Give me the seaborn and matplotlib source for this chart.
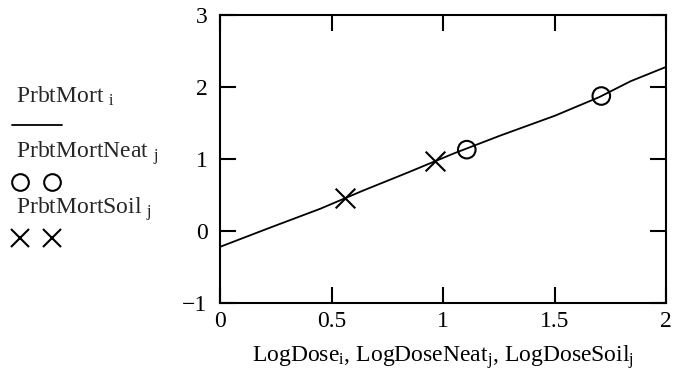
import matplotlib
matplotlib.use("Agg")
import matplotlib.pyplot as plt
from matplotlib.lines import Line2D
import seaborn as sns
import pandas as pd

# Data
log_dose = [0.0, 0.21, 0.45, 0.64, 0.84, 1.05, 1.26, 1.50, 1.70, 1.84, 2.0]
prbt_mort = [-0.22, 0.03, 0.31, 0.56, 0.81, 1.08, 1.33, 1.60, 1.86, 2.08, 2.28]
log_dose_neat = [1.106, 1.709]
prbt_mort_neat = [1.13, 1.875]
log_dose_soil = [0.56, 0.964]
prbt_mort_soil = [0.46, 0.975]
x_ticks = [0, 0.5, 1, 1.5, 2]
x_tick_labels = ["0", "0.5", "1", "1.5", "2"]
y_ticks = [-1, 0, 1, 2, 3]
y_tick_labels = ["\u22121", "0", "1", "2", "3"]

sns.set_theme(style="white")
plt.rcParams["font.family"] = ["Liberation Serif", "DejaVu Serif"]
plt.rcParams["mathtext.fontset"] = "custom"
plt.rcParams["mathtext.rm"] = "Liberation Serif"
plt.rcParams["mathtext.it"] = "Liberation Serif:italic"

fig = plt.figure(figsize=(6.75, 3.8), dpi=100)
ax = fig.add_axes([0.326, 0.2026, 0.661, 0.7579])

df_line = pd.DataFrame({"x": log_dose, "y": prbt_mort})
df_neat = pd.DataFrame({"x": log_dose_neat, "y": prbt_mort_neat})
df_soil = pd.DataFrame({"x": log_dose_soil, "y": prbt_mort_soil})

sns.lineplot(data=df_line, x="x", y="y", ax=ax, color="black", lw=1.3, sort=True)
sns.scatterplot(data=df_neat, x="x", y="y", ax=ax, marker="o", s=160,
                facecolor="none", edgecolor="black", linewidth=1.5, zorder=3)
sns.scatterplot(data=df_soil, x="x", y="y", ax=ax, marker="x", s=200,
                color="black", linewidth=1.5, zorder=3)

fs = 17
ax.set_xlim(0, 2)
ax.set_ylim(-1, 3)
ax.set_xticks(x_ticks)
ax.set_xticklabels(x_tick_labels)
ax.set_yticks(y_ticks)
ax.set_yticklabels(y_tick_labels)
ax.tick_params(axis="both", direction="in", length=11.5, width=1.5,
               top=True, right=True, bottom=True, left=True,
               labelsize=fs, colors="black", pad=6)
ax.tick_params(axis="y", pad=9)
for sp in ax.spines.values():
    sp.set_color("black")
    sp.set_linewidth(1.5)
ax.set_ylabel("")
ax.set_xlabel(r"LogDose$_\mathrm{i}$, LogDoseNeat$_\mathrm{j}$, LogDoseSoil$_\mathrm{j}$",
              fontsize=fs, color="black", labelpad=8)

# Legend at the left
fig.text(16 / 675, 1 - 103 / 380, r"PrbtMort $_\mathrm{i}$", fontsize=fs, ha="left", va="baseline")
fig.add_artist(Line2D([12 / 675, 62 / 675], [1 - 125 / 380] * 2, color="black", lw=1.3,
                      transform=fig.transFigure))
fig.text(16 / 675, 1 - 158 / 380, r"PrbtMortNeat $_\mathrm{j}$", fontsize=fs, ha="left", va="baseline")
fig.add_artist(Line2D([20 / 675, 52 / 675], [1 - 182 / 380] * 2, color="black", lw=0,
                      marker="o", markersize=12, markerfacecolor="none", markeredgewidth=1.5,
                      transform=fig.transFigure))
fig.text(16 / 675, 1 - 214 / 380, r"PrbtMortSoil $_\mathrm{j}$", fontsize=fs, ha="left", va="baseline")
fig.add_artist(Line2D([20 / 675, 52 / 675], [1 - 238 / 380] * 2, color="black", lw=0,
                      marker="x", markersize=13, markeredgewidth=1.5,
                      transform=fig.transFigure))

fig.savefig("out.png", dpi=100, facecolor="white")
